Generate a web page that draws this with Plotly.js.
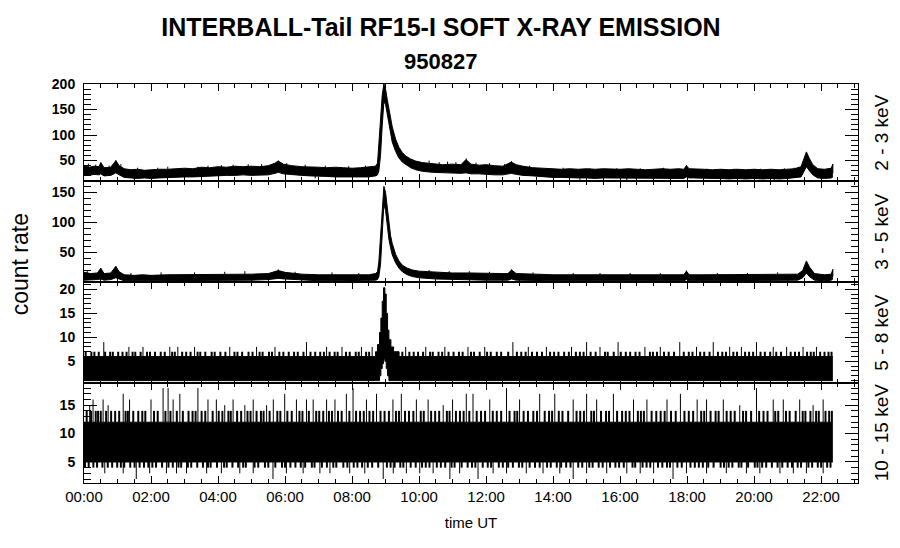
<!DOCTYPE html>
<html>
<head>
<meta charset="utf-8">
<script src="https://cdn.plot.ly/plotly-3.0.1.min.js"></script>
<style>html,body{margin:0;padding:0;background:#fff;}#chart{width:900px;height:548px;}</style>
</head>
<body>
<div id="chart"></div>
<script>
// ---------------- DATA (hours UT, count rate) ----------------
const TICK_HOURS = [0,2,4,6,8,10,12,14,16,18,20,22];
const TICK_LABELS = ["00:00","02:00","04:00","06:00","08:00","10:00","12:00","14:00","16:00","18:00","20:00","22:00"];
const BAND_LABELS = ["2 - 3 keV","3 - 5 keV","5 - 8 keV","10 - 15 keV"];

// Panel 1 : 2 - 3 keV  (envelope of the noisy trace)
const t1 = [0,0.15,0.3,0.45,0.5,0.6,0.8,0.95,1.05,1.2,1.4,1.6,1.8,2,2.25,2.5,2.75,3,3.25,3.5,3.75,4,4.25,4.5,4.75,5,5.25,5.5,5.7,5.8,5.95,6.2,6.5,6.75,7,7.25,7.5,7.75,8,8.25,8.5,8.7,8.76,8.8,8.85,8.9,8.95,9,9.05,9.1,9.15,9.2,9.3,9.4,9.5,9.6,9.75,9.9,10.1,10.4,10.7,11,11.25,11.4,11.55,11.8,12,12.25,12.5,12.75,12.9,13.1,13.4,13.7,14,14.25,14.5,14.75,15,15.25,15.5,15.75,16,16.25,16.5,16.75,17,17.25,17.5,17.75,17.9,17.98,18.06,18.2,18.5,18.75,19,19.25,19.5,19.75,20,20.25,20.5,20.75,21,21.2,21.4,21.48,21.56,21.65,21.75,21.9,22.1,22.3,22.35];
const hi1 = [40,37,39,38,46,36,37,50,40,34, 32,33,31,32,33,33,34,35,34,37, 36,38,37,39,38,39,38,40,45,49, 43,40,38,38,37,36,37,36,35,36, 37,39,45,80,130,178,200,190,170,150, 132,116,92,76,66,59,53,49,46,44, 42,43,42,52,43,41,42,40,39,47, 42,39,36,35,34,33,34,33,34,33, 34,33,33,34,33,32,33,34,33,34, 33,40,34,34,33,32,33,32,33,32,33,32,33,32,33,34,38,52,67,54,42,34,33,35,43];
const lo1 = [22,21,23,22,24,20,21,26,22,17, 16,15,16,15,16,17,17,18,18,19, 20,20,21,21,22,21,22,22,25,27, 24,22,21,20,20,19,18,18,18,17, 18,20,22,30,60,118,165,160,140,118, 100,86,68,55,47,42,36,32,29,27, 26,25,25,26,24,24,23,22,22,25, 23,21,20,18,17,17,16,16,16,15, 16,16,15,16,15,15,16,16,15,16, 15,18,16,16,15,15,15,14,15,14,15,14,15,14,15,16,18,28,38,30,22,16,15,16,18];
// single excursions beyond the envelope: time, start, end
const sp1_t    = [0.13,0.35,0.5,0.75,0.95,1.1,1.6,2.2,2.5,3.4,3.7,4.1,4.45,4.9,5.3,5.8,6.05,6.6,7.2,7.9,8.4,10.3,10.6,10.85,11.1,11.41,11.7,12.1,12.55,12.76,13.3,14.3,15.1,15.9,16.6,17.3,17.98,18.6,19.4,20.2,20.9,21.2,22.35, 1.5,3.0,6.9,14.8,16.2,19.0,20.6];
const sp1_from = [30,30,30,28,30,28,25,25,25,26,27,27,28,28,29,32,30,28,27,26,26,33,32,32,31,32,30,30,28,32,27,24,23,23,23,23,25,22,22,22,22,23,25, 22,24,25,20,20,20,20];
const sp1_to   = [44,42,46,40,50,43,36,36,38,38,40,41,42,43,43,50,45,42,40,39,40,50,47,48,47,54,46,45,43,49,40,36,35,35,35,36,41,34,34,34,35,36,43, 13,14,15,11,11,11,11];

// Panel 2 : 3 - 5 keV
const t2 = [0,0.2,0.4,0.5,0.6,0.8,0.95,1.05,1.2,1.5, 1.75,2,2.5,3,3.5,4,4.5,5,5.5,5.8, 6,6.5,7,7.5,8,8.5,8.7,8.76,8.8,8.85, 8.9,8.95,9,9.05,9.1,9.15,9.2,9.3,9.4,9.5, 9.65,9.8,10,10.5,11,11.5,12,12.5,12.65,12.76, 12.9,13,13.5,14,14.5,15,15.5,16,16.5,17, 17.5,17.9,17.98,18.06,18.5,19,19.5,20,20.5,21, 21.3,21.45,21.56,21.65,21.8,22.1,22.3,22.35];
const hi2 = [17,15,16,24,15,16,27,18,13,12, 13,12,13,13,14,14,14,14,15,20, 17,14,13,13,13,13,15,18,35,75, 125,160,150,122,96,78,65,47,36,29, 24,21,19,17,16,16,15,15,15,21, 15,15,14,13,13,13,13,13,13,13, 13,13,19,13,13,13,13,13,13,13, 14,20,36,26,15,13,14,22];
const lo2 = [4,4,5,6,4,5,8,6,3,3, 3,3,3,3,4,4,4,4,5,7, 6,4,3,3,3,3,4,5,10,30, 80,130,120,95,72,58,46,33,24,18, 13,10,8,6,5,5,4,4,4,6, 4,4,3,3,3,3,3,3,3,3, 3,3,5,3,3,3,3,3,3,3, 4,8,16,10,4,3,4,6];
const sp2_t    = [0.1,0.5,0.95,1.4,2.3,3.3,4.2,4.8,5.8,6.3,7.4,8.2,10.3,10.9,11.5,12.1,12.76,13.4,14.6,15.4,16.3,17.2,17.98,18.9,19.8,20.7,22.35];
const sp2_from = [10,10,12,8,8,8,9,9,12,9,8,8,12,10,10,9,12,8,8,8,8,8,10,8,8,8,10];
const sp2_to   = [19,24,27,16,17,17,18,19,22,18,17,16,21,19,19,18,22,17,16,16,16,16,20,16,16,17,22];

// Panel 3 : 5 - 8 keV (integer counts)
const t3  = [0, 8.7,8.76,8.82,8.86,8.9,8.94,8.98,9.02,9.06,9.1,9.16,9.24, 9.4, 22.35];
const hi3 = [6, 7,8.5,11,14,17.5,20.3,19,15,11.5,9.5,8,7, 6, 6];
const lo3 = [1, 1,1,2,3.5,4.5,5.5,5,3.5,2,1,1,1, 1, 1];
const sp3_base = 6;
// frequent one-count excursions (to 7)
const sp3_one_level = 7;
const sp3_one_t = [0.05,0.22,0.31,0.44,0.63,0.78,0.86,1.02,1.15,1.27,1.45,1.53,1.69,1.88,1.97,2.12,2.29,2.41,2.63,2.71,2.93,3.05,3.18,3.39,3.47,3.62,3.81,3.9,4.07,4.22,4.49,4.58,4.72,4.91,5.03,5.24,5.33,5.52,5.61,5.83,5.95,6.11,6.27,6.38,6.55,6.76,6.9,7.05,7.16,7.33,7.48,7.57,7.82,7.93,8.11,8.2,8.42,8.51,9.38,9.5,9.71,9.84,9.97,10.12,10.33,10.41,10.58,10.69,10.88,11.03,11.19,11.3,11.55,11.64,11.81,12.03,12.14,12.32,12.45,12.66,12.92,13.05,13.18,13.37,13.52,13.67,13.91,14.03,14.16,14.33,14.47,14.68,14.8,14.91,15.12,15.27,15.55,15.63,15.81,16.02,16.17,16.3,16.46,16.58,16.89,16.98,17.1,17.31,17.45,17.61,17.9,18.05,18.16,18.39,18.51,18.67,18.92,19.05,19.16,19.38,19.49,19.73,19.85,19.97,20.19,20.32,20.48,20.66,20.8,21.09,21.22,21.34,21.58,21.69,21.78,21.97,22.1,22.22,22.31];
// taller excursions
const sp3_t  = [0.59,1.34,1.76,2.56,2.8,3.3,4.35,5.15,5.7,6.64,7.24,7.7,8.28,8.6,9.6,10.2,10.77,11.46,11.96,12.8,13.26,13.8,14.55,15.0,15.4,15.94,16.74,17.2,17.78,18.28,18.78,19.27,19.62,20.07,20.57,20.97,21.46,21.86];
const sp3_to = [9,8,8,8,8,8,8,8,8,9,8,8,8,8,8,8,8,8,8,9,8,8,8,9,8,9,8,8,9,8,9,8,8,9,8,8,8,8];

// Panel 4 : 10 - 15 keV (integer counts)
const t4  = [0, 22.35];
const hi4 = [12, 12];
const lo4 = [5, 5];
const sp4_up_base = 12;
const sp4_one_up_level = 14;
const sp4_one_up_t = [0.08,0.21,0.35,0.42,0.5,0.66,0.81,0.93,1.05,1.24,1.31,1.47,1.62,1.74,1.83,2.09,2.2,2.43,2.58,2.77,2.95,3.12,3.24,3.33,3.51,3.62,3.84,4.02,4.13,4.31,4.38,4.57,4.69,4.88,4.97,5.15,5.28,5.36,5.54,5.77,5.86,6.07,6.2,6.43,6.52,6.71,6.93,7.02,7.14,7.31,7.4,7.58,7.69,7.92,8.12,8.24,8.35,8.52,8.63,8.85,8.97,9.1,9.31,9.4,9.58,9.7,9.83,10.05,10.14,10.36,10.48,10.6,10.83,10.91,11.1,11.22,11.33,11.5,11.72,11.85,11.97,12.2,12.32,12.45,12.7,12.85,12.93,13.12,13.25,13.41,13.52,13.75,13.88,13.97,14.17,14.28,14.45,14.7,14.81,14.92,15.14,15.22,15.43,15.58,15.67,15.91,16.06,16.17,16.28,16.53,16.62,16.71,16.94,17.08,17.21,17.33,17.52,17.66,17.92,18.05,18.18,18.42,18.51,18.7,18.85,18.94,19.18,19.3,19.42,19.67,19.76,19.91,20.15,20.28,20.4,20.63,20.72,20.95,21.06,21.24,21.45,21.53,21.68,21.85,21.93,22.13,22.24,22.32];
const sp4_up_t  = [0.17,0.27,0.57,0.72,1.17,1.36,2.0,2.36,2.51,2.66,2.86,3.4,3.7,3.95,4.2,4.45,4.8,5.05,5.45,5.65,5.99,6.34,6.64,6.84,7.24,7.49,7.83,8.03,8.43,8.73,9.22,9.47,9.92,10.27,10.72,11.0,11.41,11.61,12.11,12.61,13.0,13.6,14.05,14.6,15.0,15.3,15.8,16.4,16.8,17.4,17.8,18.3,18.58,19.08,19.57,20.07,20.57,20.87,21.36,21.76,22.06];
const sp4_up_to = [15,16,16,15,17,16,16,18,18,16,17,18,16,16,15,16,15,16,15,16,17,16,16,16,16,16,17,18,16,17,16,17,16,16,15,16,17,17,16,18,16,17,17,16,17,16,17,16,16,16,17,16,16,16,15,18,16,16,16,15,16];
const sp4_dn_base = 5;
const sp4_one_dn_level = 4;
const sp4_one_dn_t = [0.03,0.14,0.28,0.39,0.55,0.71,0.84,0.99,1.1,1.2,1.38,1.51,1.66,1.79,1.92,2.04,2.15,2.33,2.52,2.65,2.82,2.9,3.1,3.2,3.38,3.55,3.7,3.78,3.97,4.18,4.26,4.43,4.6,4.75,4.83,5.09,5.2,5.4,5.5,5.71,5.91,6.0,6.16,6.31,6.47,6.6,6.8,6.88,7.1,7.25,7.44,7.53,7.74,7.86,8.05,8.16,8.3,8.47,8.6,8.78,9.04,9.15,9.27,9.44,9.53,9.75,9.9,10.09,10.2,10.31,10.53,10.65,10.78,10.97,11.06,11.27,11.45,11.58,11.68,11.9,12.05,12.15,12.38,12.5,12.66,12.8,12.98,13.08,13.3,13.46,13.6,13.82,13.93,14.11,14.24,14.39,14.52,14.75,14.87,15.08,15.18,15.36,15.48,15.7,15.86,15.97,16.11,16.37,16.45,16.67,16.79,16.9,17.13,17.26,17.4,17.49,17.71,17.84,18.1,18.23,18.35,18.47,18.63,18.79,19.0,19.1,19.24,19.35,19.54,19.62,19.82,20.02,20.1,20.24,20.36,20.53,20.7,20.84,21.0,21.13,21.3,21.4,21.62,21.73,21.9,22.0,22.18,22.28];
const sp4_dn_t  = [0.62,1.17,1.56,1.96,2.46,2.76,3.06,3.66,4.1,4.65,5.05,5.64,6.04,6.54,7.04,7.34,7.93,8.38,8.93,9.23,9.62,10.02,10.42,10.92,11.21,11.76,12.21,12.61,13.2,13.7,14.2,14.6,15.0,15.6,16.2,16.6,17.0,17.58,17.98,18.58,19.17,19.77,20.17,20.77,21.17,21.56,22.06];
const sp4_dn_to = [3,3,2,3,3,3,3,3,3,3,3,2,3,3,3,3,3,3,2,3,3,3,3,2,3,2,3,3,3,3,3,2,3,3,3,3,3,2,3,3,3,3,3,3,3,3,3];

// ---------------- BUILD ----------------
const FONT = 'Liberation Sans, Arial, Helvetica, sans-serif';
function band(t, lo, hi, xa, ya, shape) {
  return [
    {type:'scatter', mode:'lines', x:t, y:lo, xaxis:xa, yaxis:ya, line:{color:'black', width:1, shape:shape}, hoverinfo:'skip'},
    {type:'scatter', mode:'lines', x:t, y:hi, xaxis:xa, yaxis:ya, fill:'tonexty', fillcolor:'black', line:{color:'black', width:1, shape:shape}, hoverinfo:'skip'}
  ];
}
function spikes(ts, from, to, xa, ya, w) {
  const x = [], y = [];
  ts.forEach((t, i) => {
    x.push(t, t, null);
    y.push(Array.isArray(from) ? from[i] : from, Array.isArray(to) ? to[i] : to, null);
  });
  return {type:'scatter', mode:'lines', x:x, y:y, xaxis:xa, yaxis:ya, line:{color:'black', width:w || 1}, hoverinfo:'skip', connectgaps:false};
}

const data = [].concat(
  band(t1, lo1, hi1, 'x', 'y', 'linear'), [spikes(sp1_t, sp1_from, sp1_to, 'x', 'y')],
  band(t2, lo2, hi2, 'x2', 'y2', 'linear'), [spikes(sp2_t, sp2_from, sp2_to, 'x2', 'y2')],
  band(t3, lo3, hi3, 'x3', 'y3', 'hv'),
  [spikes(sp3_one_t, sp3_base, sp3_one_level, 'x3', 'y3', 2), spikes(sp3_t, sp3_base, sp3_to, 'x3', 'y3')],
  band(t4, lo4, hi4, 'x4', 'y4', 'hv'),
  [spikes(sp4_one_up_t, sp4_up_base, sp4_one_up_level, 'x4', 'y4', 2),
   spikes(sp4_one_dn_t, sp4_dn_base, sp4_one_dn_level, 'x4', 'y4', 2),
   spikes(sp4_up_t, sp4_up_base, sp4_up_to, 'x4', 'y4'),
   spikes(sp4_dn_t, sp4_dn_base, sp4_dn_to, 'x4', 'y4')]
);

function xAxis(anchor, labels) {
  const a = {
    anchor: anchor, range: [0, 23.1], showline: true, linecolor: 'black', linewidth: 1, mirror: 'ticks',
    ticks: 'inside', ticklen: 7, tickcolor: 'black', tickwidth: 1,
    tickmode: 'array', tickvals: TICK_HOURS, ticktext: TICK_LABELS,
    showgrid: false, zeroline: false, showticklabels: labels,
    tickfont: {family: FONT, size: 15, color: 'black'}, ticklabelstandoff: 0,
    minor: {dtick: 0.5, tick0: 0, ticks: 'inside', ticklen: 4, tickcolor: 'black', showgrid: false}
  };
  if (labels) a.title = {text: 'time UT', font: {family: FONT, size: 15, color: 'black'}, standoff: 13};
  return a;
}
function yAxis(anchor, domain, range, tickvals, minorStep) {
  return {
    anchor: anchor, domain: domain, range: range, showline: true, linecolor: 'black', linewidth: 1, mirror: 'ticks',
    ticks: 'inside', ticklen: 13, tickcolor: 'black', tickwidth: 1,
    tickmode: 'array', tickvals: tickvals, ticktext: tickvals.map(String),
    showgrid: false, zeroline: false,
    tickfont: {family: FONT, size: 14, color: 'black', weight: 'bold'}, ticklabelstandoff: 5,
    minor: {dtick: minorStep, tick0: 0, ticks: 'inside', ticklen: 7, tickcolor: 'black', showgrid: false}
  };
}

const D1 = [0.7569, 1], D2 = [0.5038, 0.7569], D3 = [0.2506, 0.5038], D4 = [0, 0.2506];
const bandAnn = [D1, D2, D3, D4].map((d, i) => ({
  text: BAND_LABELS[i], xref: 'paper', yref: 'paper', x: 1.03, y: (d[0] + d[1]) / 2,
  xanchor: 'center', yanchor: 'middle', textangle: -90, showarrow: false,
  font: {family: FONT, size: 19, color: 'black'}
}));

const layout = {
  width: 900, height: 548,
  margin: {l: 84, r: 42, t: 84, b: 65},
  paper_bgcolor: 'white', plot_bgcolor: 'white',
  showlegend: false, hovermode: false,
  title: {text: 'INTERBALL-Tail RF15-I SOFT X-RAY EMISSION', font: {family: FONT, size: 25, color: 'black', weight: 'bold'},
          xref: 'container', x: 0.49, xanchor: 'center', yref: 'container', y: 1 - 27 / 548, yanchor: 'middle'},
  xaxis: xAxis('y', false), xaxis2: xAxis('y2', false), xaxis3: xAxis('y3', false), xaxis4: xAxis('y4', true),
  yaxis: yAxis('x', D1, [10, 200], [50, 100, 150, 200], 10),
  yaxis2: yAxis('x2', D2, [1, 169], [50, 100, 150], 10),
  yaxis3: yAxis('x3', D3, [0.5, 21.5], [5, 10, 15, 20], 1),
  yaxis4: yAxis('x4', D4, [1.3, 18.9], [5, 10, 15], 1),
  annotations: [
    {text: '950827', xref: 'paper', yref: 'paper', x: 0.4612, y: 1.0576, xanchor: 'center', yanchor: 'middle', showarrow: false,
     font: {family: FONT, size: 22, color: 'black', weight: 'bold'}},
    {text: 'count rate', xref: 'paper', yref: 'paper', x: -0.0827, y: 0.548, xanchor: 'center', yanchor: 'middle', textangle: -90, showarrow: false,
     font: {family: FONT, size: 23, color: 'black'}}
  ].concat(bandAnn)
};

Plotly.newPlot('chart', data, layout, {staticPlot: true, displayModeBar: false});
</script>
</body>
</html>
